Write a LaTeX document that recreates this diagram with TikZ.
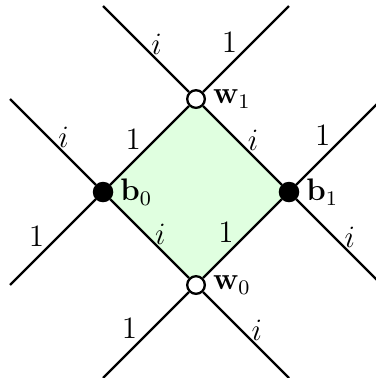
\documentclass[tikz,border=0pt]{standalone}
\usetikzlibrary{backgrounds}
\begin{document}
\begin{tikzpicture}[x=1.26cm,y=1.26cm,font=\large,
  edge/.style={line width=0.9pt},
  wnode/.style={circle,draw,line width=0.9pt,fill=white,inner sep=0pt,minimum size=6.8pt},
  bnode/.style={circle,draw,line width=0.9pt,fill=black,inner sep=0pt,minimum size=7pt},
  lone/.style={midway,shift={(-0.177,0.066)},inner sep=0pt},
  lii/.style={midway,shift={(0.115,0.050)},inner sep=0pt},
  vlab/.style={label distance=-0.8pt}]
\useasboundingbox (-2.108,-2.0) rectangle (1.925,2.065);
\node[wnode,label={[vlab]right:$\mathbf{w}_1$}] (w1) at (0,1) {};
\node[wnode,label={[vlab]right:$\mathbf{w}_0$}] (w0) at (0,-1) {};
\node[bnode,label={[vlab]right:$\mathbf{b}_0$}] (b0) at (-1,0) {};
\node[bnode,label={[vlab]right:$\mathbf{b}_1$}] (b1) at (1,0) {};
\coordinate (tl) at (-1,2);
\coordinate (tr) at (1,2);
\coordinate (lu) at (-2,1);
\coordinate (ld) at (-2,-1);
\coordinate (ru) at (2,1);
\coordinate (rd) at (2,-1);
\coordinate (bl) at (-1,-2);
\coordinate (br) at (1,-2);
\begin{scope}[on background layer]
\fill[green!12] (w1.center) -- (b1.center) -- (w0.center) -- (b0.center) -- cycle;
\end{scope}
% square edges
\draw[edge] (b0) -- node[lone]{$1$} (w1);
\draw[edge] (w1) -- node[lii]{$i$} (b1);
\draw[edge] (w0) -- node[lone]{$1$} (b1);
\draw[edge] (b0) -- node[lii]{$i$} (w0);
% outer edges
\draw[edge] (tl) -- node[lii]{$i$} (w1);
\draw[edge] (w1) -- node[lone]{$1$} (tr);
\draw[edge] (lu) -- node[lii]{$i$} (b0);
\draw[edge] (ld) -- node[lone]{$1$} (b0);
\draw[edge] (b1) -- node[lone]{$1$} (ru);
\draw[edge] (b1) -- node[lii]{$i$} (rd);
\draw[edge] (bl) -- node[lone]{$1$} (w0);
\draw[edge] (w0) -- node[lii]{$i$} (br);
\end{tikzpicture}
\end{document}
